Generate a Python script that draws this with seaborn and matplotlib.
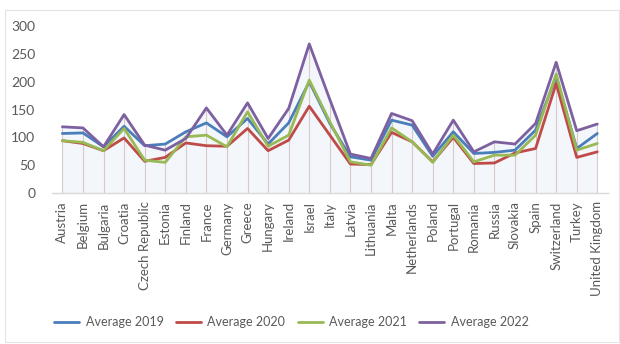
import numpy as np
import pandas as pd
import matplotlib
matplotlib.use("Agg")
import matplotlib.pyplot as plt
from matplotlib.patches import Rectangle
import seaborn as sns

countries = ["Austria", "Belgium", "Bulgaria", "Croatia", "Czech Republic", "Estonia",
             "Finland", "France", "Germany", "Greece", "Hungary", "Ireland", "Israel",
             "Italy", "Latvia", "Lithuania", "Malta", "Netherlands", "Poland", "Portugal",
             "Romania", "Russia", "Slovakia", "Spain", "Switzerland", "Turkey",
             "United Kingdom"]

avg_2019 = [107, 108, 83, 120, 85, 88, 110, 126, 101, 134, 88, 126, 200, 125, 65, 59,
            131, 122, 66, 110, 71, 73, 77, 113, 209, 80, 107]
avg_2020 = [94, 89, 76, 99, 57, 64, 90, 85, 84, 116, 76, 95, 156, 104, 52, 51,
            109, 92, 56, 100, 53, 54, 72, 80, 197, 64, 74]
avg_2021 = [94, 91, 76, 116, 59, 55, 101, 104, 83, 146, 84, 104, 203, 128, 56, 50,
            117, 92, 55, 104, 56, 68, 68, 104, 214, 77, 89]
avg_2022 = [119, 117, 83, 141, 86, 77, 98, 153, 104, 162, 98, 152, 268, 168, 70, 62,
            143, 130, 70, 131, 74, 92, 88, 125, 235, 112, 124]

series_names = ["Average 2019", "Average 2020", "Average 2021", "Average 2022"]
series_vals = [avg_2019, avg_2020, avg_2021, avg_2022]
colors = ["#4A7EBB", "#BE4B48", "#98B954", "#7D60A0"]
yticks = [0, 50, 100, 150, 200, 250, 300]

rows = []
for name, vals in zip(series_names, series_vals):
    for i, (c, v) in enumerate(zip(countries, vals)):
        rows.append({"idx": i, "country": c, "series": name, "value": v})
df = pd.DataFrame(rows)

sns.set_theme(style="white")
plt.rcParams["font.family"] = ["Lato", "DejaVu Sans"]
txt = "#595959"

fig = plt.figure(figsize=(6.2, 3.44), dpi=100)
fig.patch.set_facecolor("white")
fig.add_artist(Rectangle((0.008, 0.005), 0.99, 0.965, transform=fig.transFigure,
                         fill=False, edgecolor="#e4e4e4", linewidth=0.8))
ax = fig.add_axes([0.084, 0.439, 0.896, 0.485])

x = np.arange(len(countries))
top = np.max(np.array(series_vals), axis=0)
ax.fill_between(x, 0, top, color="#dfe8f2", alpha=0.35, linewidth=0, zorder=0)
ax.vlines(x, 0, top, color="#d6caca", linewidth=0.8, zorder=1)

sns.lineplot(data=df, x="idx", y="value", hue="series", palette=colors,
             linewidth=2.0, ax=ax, legend=True, zorder=3)

ax.set_xlim(-0.5, len(countries) - 0.5)
ax.set_ylim(0, 300)
ax.set_yticks(yticks)
ax.set_yticklabels([str(t) for t in yticks], fontsize=10, color=txt)
ax.set_xticks(x)
ax.set_xticklabels(countries, rotation=90, fontsize=9.5, color=txt)
ax.tick_params(axis="x", length=0, pad=6)
ax.tick_params(axis="y", length=0, pad=12)
ax.set_xlabel("")
ax.set_ylabel("")
for s in ["top", "right", "left"]:
    ax.spines[s].set_visible(False)
ax.spines["bottom"].set_color("#d9d9d9")
ax.spines["bottom"].set_linewidth(1.0)
ax.grid(False)

handles, labels = ax.get_legend_handles_labels()
ax.legend_.remove()
leg = fig.legend(handles, labels, loc="center", bbox_to_anchor=(0.47, 0.063), ncol=4,
                 frameon=False, fontsize=9, handlelength=2.0, columnspacing=1.0,
                 handletextpad=0.5)
for t in leg.get_texts():
    t.set_color(txt)

fig.savefig("out.png", dpi=100, facecolor="white")
